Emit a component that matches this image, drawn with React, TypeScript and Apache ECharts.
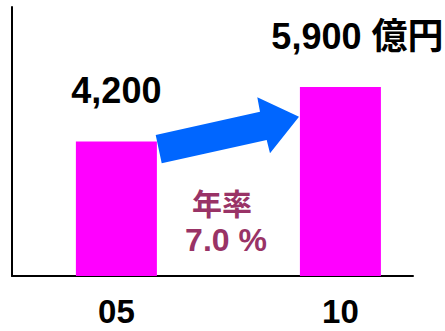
import React, { useEffect, useRef } from "react";
import * as echarts from "echarts";

const years = [2005, 2010];
const values = [4200, 5900];
const unit = "億円";
const rateLabel = "年率";
const rateValue = "7.0 %";

export default function App() {
  const ref = useRef<HTMLDivElement>(null);
  useEffect(() => {
    const chart = echarts.init(ref.current!, null, { renderer: "svg" });
    const fmt = (v: number) => v.toLocaleString("en-US");
    const data = years.map((y, i) => {
      const last = i === years.length - 1;
      return {
        value: [y, values[i]],
        label: last
          ? { formatter: `${fmt(values[i])} ${unit}`, offset: [17, 0] }
          : { formatter: fmt(values[i]) },
      };
    });
    chart.setOption({
      animation: false,
      grid: { left: 12, right: 32, top: 7, bottom: 55 },
      xAxis: {
        type: "value",
        min: 2002.67,
        max: 2011.62,
        splitLine: { show: false },
        axisTick: { show: false },
        axisLine: { show: true, lineStyle: { color: "#000", width: 2 } },
        axisLabel: {
          customValues: years,
          formatter: (v: number) => String(v).slice(2),
          fontSize: 33,
          lineHeight: 24,
          fontWeight: "bold",
          color: "#000",
          margin: 23,
          fontFamily: "Liberation Sans, Noto Sans CJK JP",
        },
      },
      yAxis: {
        type: "value",
        min: 0,
        max: 8400,
        splitLine: { show: false },
        axisTick: { show: false },
        axisLabel: { show: false },
        axisLine: { show: true, lineStyle: { color: "#000", width: 2 } },
      },
      series: [
        {
          type: "bar",
          barWidth: 81,
          itemStyle: { color: "#FF00FF" },
          label: {
            show: true,
            position: "top",
            distance: 33,
            fontSize: 36,
            fontWeight: "bold",
            color: "#000",
            fontFamily: "Liberation Sans, Noto Sans CJK JP",
          },
          data,
        },
      ],
      graphic: [
        {
          type: "polygon",
          shape: {
            points: [
              [155.7, 135],
              [260, 111.7],
              [257.3, 97.3],
              [299, 116.7],
              [270, 153.3],
              [266.7, 140],
              [161.7, 163.3],
            ],
          },
          style: { fill: "#0066FF" },
        },
        {
          type: "text",
          x: 222,
          y: 202,
          style: {
            text: rateLabel,
            fill: "#993366",
            fontSize: 30,
            fontWeight: "bold",
            fontFamily: "Noto Sans CJK JP",
            align: "center",
            verticalAlign: "middle",
          },
        },
        {
          type: "text",
          x: 226,
          y: 240,
          style: {
            text: rateValue,
            fill: "#993366",
            fontSize: 32,
            fontWeight: "bold",
            fontFamily: "Liberation Sans, Noto Sans CJK JP",
            align: "center",
            verticalAlign: "middle",
          },
        },
      ],
    });
    return () => chart.dispose();
  }, []);
  return (
    <div
      ref={ref}
      style={{ position: "fixed", left: 0, top: 0, width: 445, height: 331, background: "#fff" }}
    />
  );
}
